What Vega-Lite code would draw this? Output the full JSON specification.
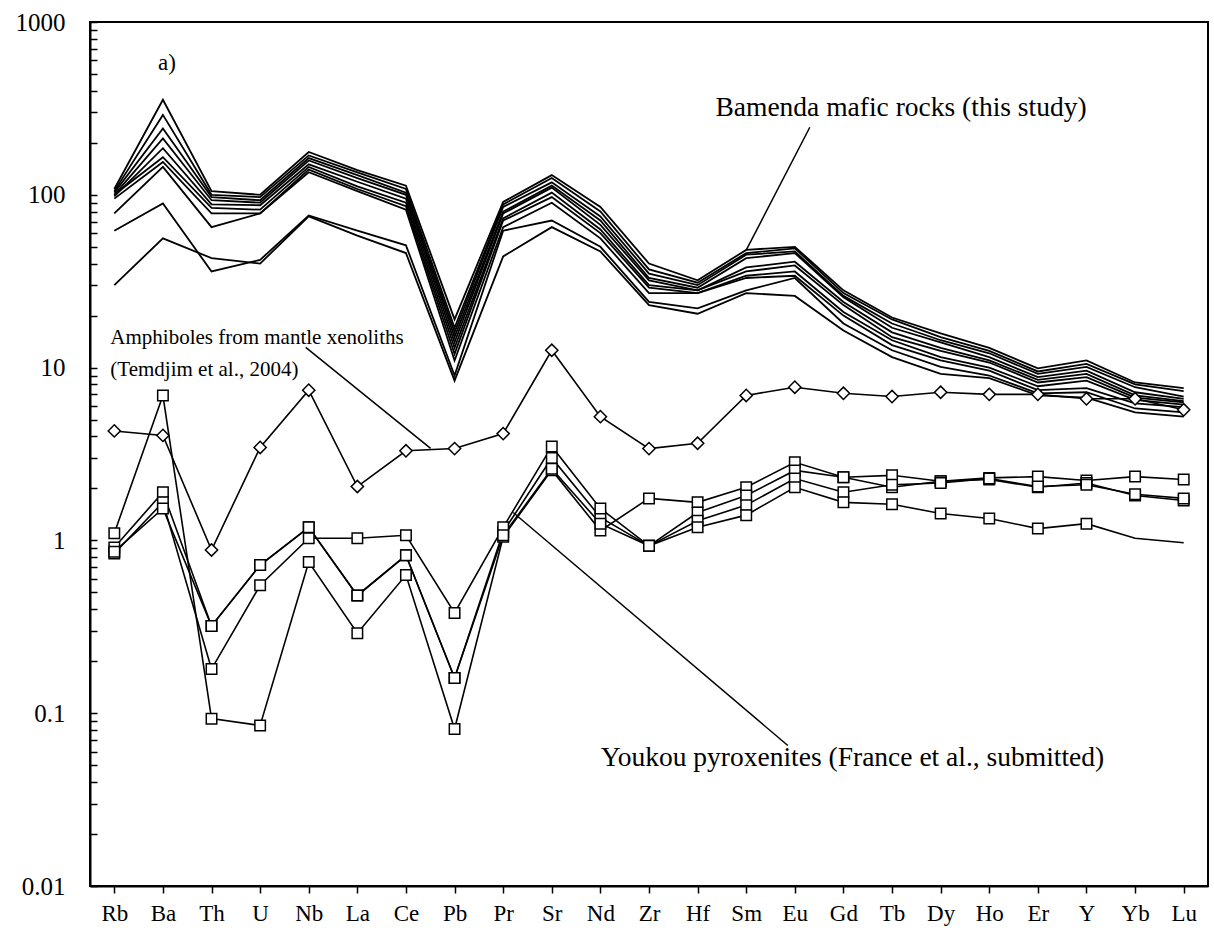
{
  "$schema": "https://vega.github.io/schema/vega-lite/v6.json",
  "autosize": "none",
  "width": 1118,
  "height": 864,
  "padding": {"left": 90, "top": 22, "right": 6, "bottom": 56},
  "background": "white",
  "config": {
    "view": {"stroke": "black", "strokeWidth": 2},
    "axis": {"labelFont": "Liberation Serif", "labelColor": "black", "tickColor": "black", "domainColor": "black", "domainWidth": 2, "tickWidth": 1.5, "grid": false, "title": null},
    "text": {"font": "Liberation Serif", "color": "black"}
  },
  "datasets": {
    "rocks": [
      {"g":"B","s":"B1","e":"Rb","v":108},{"g":"B","s":"B1","e":"Ba","v":355},{"g":"B","s":"B1","e":"Th","v":105},{"g":"B","s":"B1","e":"U","v":100},{"g":"B","s":"B1","e":"Nb","v":177},{"g":"B","s":"B1","e":"La","v":139},{"g":"B","s":"B1","e":"Ce","v":113},{"g":"B","s":"B1","e":"Pb","v":19},{"g":"B","s":"B1","e":"Pr","v":91},{"g":"B","s":"B1","e":"Sr","v":130},{"g":"B","s":"B1","e":"Nd","v":85},{"g":"B","s":"B1","e":"Zr","v":40},{"g":"B","s":"B1","e":"Hf","v":32},{"g":"B","s":"B1","e":"Sm","v":48},{"g":"B","s":"B1","e":"Eu","v":50},{"g":"B","s":"B1","e":"Gd","v":28},{"g":"B","s":"B1","e":"Tb","v":19.5},{"g":"B","s":"B1","e":"Dy","v":15.8},{"g":"B","s":"B1","e":"Ho","v":13},{"g":"B","s":"B1","e":"Er","v":9.9},{"g":"B","s":"B1","e":"Y","v":11},{"g":"B","s":"B1","e":"Yb","v":8.2},{"g":"B","s":"B1","e":"Lu","v":7.6},
      {"g":"B","s":"B2","e":"Rb","v":105},{"g":"B","s":"B2","e":"Ba","v":290},{"g":"B","s":"B2","e":"Th","v":100},{"g":"B","s":"B2","e":"U","v":97},{"g":"B","s":"B2","e":"Nb","v":169},{"g":"B","s":"B2","e":"La","v":135},{"g":"B","s":"B2","e":"Ce","v":108},{"g":"B","s":"B2","e":"Pb","v":17},{"g":"B","s":"B2","e":"Pr","v":88},{"g":"B","s":"B2","e":"Sr","v":125},{"g":"B","s":"B2","e":"Nd","v":80},{"g":"B","s":"B2","e":"Zr","v":37},{"g":"B","s":"B2","e":"Hf","v":31},{"g":"B","s":"B2","e":"Sm","v":46},{"g":"B","s":"B2","e":"Eu","v":49},{"g":"B","s":"B2","e":"Gd","v":27},{"g":"B","s":"B2","e":"Tb","v":19},{"g":"B","s":"B2","e":"Dy","v":15},{"g":"B","s":"B2","e":"Ho","v":12.5},{"g":"B","s":"B2","e":"Er","v":9.5},{"g":"B","s":"B2","e":"Y","v":10.5},{"g":"B","s":"B2","e":"Yb","v":8},{"g":"B","s":"B2","e":"Lu","v":7.3},
      {"g":"B","s":"B3","e":"Rb","v":103},{"g":"B","s":"B3","e":"Ba","v":242},{"g":"B","s":"B3","e":"Th","v":97},{"g":"B","s":"B3","e":"U","v":93},{"g":"B","s":"B3","e":"Nb","v":163},{"g":"B","s":"B3","e":"La","v":130},{"g":"B","s":"B3","e":"Ce","v":103},{"g":"B","s":"B3","e":"Pb","v":16},{"g":"B","s":"B3","e":"Pr","v":85},{"g":"B","s":"B3","e":"Sr","v":118},{"g":"B","s":"B3","e":"Nd","v":75},{"g":"B","s":"B3","e":"Zr","v":35},{"g":"B","s":"B3","e":"Hf","v":30},{"g":"B","s":"B3","e":"Sm","v":45},{"g":"B","s":"B3","e":"Eu","v":47},{"g":"B","s":"B3","e":"Gd","v":26},{"g":"B","s":"B3","e":"Tb","v":18},{"g":"B","s":"B3","e":"Dy","v":14.4},{"g":"B","s":"B3","e":"Ho","v":12.1},{"g":"B","s":"B3","e":"Er","v":9.2},{"g":"B","s":"B3","e":"Y","v":10.1},{"g":"B","s":"B3","e":"Yb","v":7.7},{"g":"B","s":"B3","e":"Lu","v":6.8},
      {"g":"B","s":"B4","e":"Rb","v":100},{"g":"B","s":"B4","e":"Ba","v":212},{"g":"B","s":"B4","e":"Th","v":93},{"g":"B","s":"B4","e":"U","v":90},{"g":"B","s":"B4","e":"Nb","v":158},{"g":"B","s":"B4","e":"La","v":125},{"g":"B","s":"B4","e":"Ce","v":100},{"g":"B","s":"B4","e":"Pb","v":15},{"g":"B","s":"B4","e":"Pr","v":80},{"g":"B","s":"B4","e":"Sr","v":113},{"g":"B","s":"B4","e":"Nd","v":71},{"g":"B","s":"B4","e":"Zr","v":33},{"g":"B","s":"B4","e":"Hf","v":29},{"g":"B","s":"B4","e":"Sm","v":43},{"g":"B","s":"B4","e":"Eu","v":46},{"g":"B","s":"B4","e":"Gd","v":25.5},{"g":"B","s":"B4","e":"Tb","v":17},{"g":"B","s":"B4","e":"Dy","v":14},{"g":"B","s":"B4","e":"Ho","v":11.5},{"g":"B","s":"B4","e":"Er","v":8.8},{"g":"B","s":"B4","e":"Y","v":9.6},{"g":"B","s":"B4","e":"Yb","v":7.2},{"g":"B","s":"B4","e":"Lu","v":6.6},
      {"g":"B","s":"B5","e":"Rb","v":98},{"g":"B","s":"B5","e":"Ba","v":186},{"g":"B","s":"B5","e":"Th","v":88},{"g":"B","s":"B5","e":"U","v":87},{"g":"B","s":"B5","e":"Nb","v":150},{"g":"B","s":"B5","e":"La","v":119},{"g":"B","s":"B5","e":"Ce","v":95},{"g":"B","s":"B5","e":"Pb","v":14},{"g":"B","s":"B5","e":"Pr","v":78},{"g":"B","s":"B5","e":"Sr","v":110},{"g":"B","s":"B5","e":"Nd","v":67},{"g":"B","s":"B5","e":"Zr","v":32},{"g":"B","s":"B5","e":"Hf","v":28},{"g":"B","s":"B5","e":"Sm","v":38},{"g":"B","s":"B5","e":"Eu","v":41},{"g":"B","s":"B5","e":"Gd","v":24},{"g":"B","s":"B5","e":"Tb","v":16},{"g":"B","s":"B5","e":"Dy","v":13},{"g":"B","s":"B5","e":"Ho","v":11},{"g":"B","s":"B5","e":"Er","v":8.5},{"g":"B","s":"B5","e":"Y","v":9.2},{"g":"B","s":"B5","e":"Yb","v":6.9},{"g":"B","s":"B5","e":"Lu","v":6.4},
      {"g":"B","s":"B6","e":"Rb","v":100},{"g":"B","s":"B6","e":"Ba","v":165},{"g":"B","s":"B6","e":"Th","v":84},{"g":"B","s":"B6","e":"U","v":82},{"g":"B","s":"B6","e":"Nb","v":145},{"g":"B","s":"B6","e":"La","v":112},{"g":"B","s":"B6","e":"Ce","v":90},{"g":"B","s":"B6","e":"Pb","v":13},{"g":"B","s":"B6","e":"Pr","v":73},{"g":"B","s":"B6","e":"Sr","v":103},{"g":"B","s":"B6","e":"Nd","v":63},{"g":"B","s":"B6","e":"Zr","v":30},{"g":"B","s":"B6","e":"Hf","v":28},{"g":"B","s":"B6","e":"Sm","v":36},{"g":"B","s":"B6","e":"Eu","v":39},{"g":"B","s":"B6","e":"Gd","v":23},{"g":"B","s":"B6","e":"Tb","v":15},{"g":"B","s":"B6","e":"Dy","v":12.5},{"g":"B","s":"B6","e":"Ho","v":10.7},{"g":"B","s":"B6","e":"Er","v":8.2},{"g":"B","s":"B6","e":"Y","v":8.8},{"g":"B","s":"B6","e":"Yb","v":6.7},{"g":"B","s":"B6","e":"Lu","v":6.3},
      {"g":"B","s":"B7","e":"Rb","v":95},{"g":"B","s":"B7","e":"Ba","v":155},{"g":"B","s":"B7","e":"Th","v":78},{"g":"B","s":"B7","e":"U","v":78},{"g":"B","s":"B7","e":"Nb","v":140},{"g":"B","s":"B7","e":"La","v":108},{"g":"B","s":"B7","e":"Ce","v":86},{"g":"B","s":"B7","e":"Pb","v":12},{"g":"B","s":"B7","e":"Pr","v":71},{"g":"B","s":"B7","e":"Sr","v":97},{"g":"B","s":"B7","e":"Nd","v":60},{"g":"B","s":"B7","e":"Zr","v":29},{"g":"B","s":"B7","e":"Hf","v":27},{"g":"B","s":"B7","e":"Sm","v":34},{"g":"B","s":"B7","e":"Eu","v":36},{"g":"B","s":"B7","e":"Gd","v":21},{"g":"B","s":"B7","e":"Tb","v":14.4},{"g":"B","s":"B7","e":"Dy","v":11.5},{"g":"B","s":"B7","e":"Ho","v":10},{"g":"B","s":"B7","e":"Er","v":7.8},{"g":"B","s":"B7","e":"Y","v":8.4},{"g":"B","s":"B7","e":"Yb","v":6.5},{"g":"B","s":"B7","e":"Lu","v":6.1},
      {"g":"B","s":"B8","e":"Rb","v":78},{"g":"B","s":"B8","e":"Ba","v":145},{"g":"B","s":"B8","e":"Th","v":65},{"g":"B","s":"B8","e":"U","v":78},{"g":"B","s":"B8","e":"Nb","v":135},{"g":"B","s":"B8","e":"La","v":105},{"g":"B","s":"B8","e":"Ce","v":82},{"g":"B","s":"B8","e":"Pb","v":11},{"g":"B","s":"B8","e":"Pr","v":65},{"g":"B","s":"B8","e":"Sr","v":90},{"g":"B","s":"B8","e":"Nd","v":56},{"g":"B","s":"B8","e":"Zr","v":27},{"g":"B","s":"B8","e":"Hf","v":27},{"g":"B","s":"B8","e":"Sm","v":33},{"g":"B","s":"B8","e":"Eu","v":34},{"g":"B","s":"B8","e":"Gd","v":20},{"g":"B","s":"B8","e":"Tb","v":13.5},{"g":"B","s":"B8","e":"Dy","v":11},{"g":"B","s":"B8","e":"Ho","v":9.6},{"g":"B","s":"B8","e":"Er","v":7.4},{"g":"B","s":"B8","e":"Y","v":7.6},{"g":"B","s":"B8","e":"Yb","v":6.2},{"g":"B","s":"B8","e":"Lu","v":5.9},
      {"g":"B","s":"B9","e":"Rb","v":62},{"g":"B","s":"B9","e":"Ba","v":89},{"g":"B","s":"B9","e":"Th","v":36},{"g":"B","s":"B9","e":"U","v":42},{"g":"B","s":"B9","e":"Nb","v":76},{"g":"B","s":"B9","e":"La","v":62},{"g":"B","s":"B9","e":"Ce","v":51},{"g":"B","s":"B9","e":"Pb","v":9},{"g":"B","s":"B9","e":"Pr","v":62},{"g":"B","s":"B9","e":"Sr","v":71},{"g":"B","s":"B9","e":"Nd","v":50},{"g":"B","s":"B9","e":"Zr","v":24},{"g":"B","s":"B9","e":"Hf","v":22},{"g":"B","s":"B9","e":"Sm","v":28},{"g":"B","s":"B9","e":"Eu","v":33},{"g":"B","s":"B9","e":"Gd","v":18},{"g":"B","s":"B9","e":"Tb","v":12.6},{"g":"B","s":"B9","e":"Dy","v":10.1},{"g":"B","s":"B9","e":"Ho","v":9},{"g":"B","s":"B9","e":"Er","v":7.1},{"g":"B","s":"B9","e":"Y","v":7.2},{"g":"B","s":"B9","e":"Yb","v":5.8},{"g":"B","s":"B9","e":"Lu","v":5.5},
      {"g":"B","s":"B10","e":"Rb","v":30},{"g":"B","s":"B10","e":"Ba","v":56},{"g":"B","s":"B10","e":"Th","v":43},{"g":"B","s":"B10","e":"U","v":40},{"g":"B","s":"B10","e":"Nb","v":75},{"g":"B","s":"B10","e":"La","v":58},{"g":"B","s":"B10","e":"Ce","v":46},{"g":"B","s":"B10","e":"Pb","v":8.4},{"g":"B","s":"B10","e":"Pr","v":44},{"g":"B","s":"B10","e":"Sr","v":65},{"g":"B","s":"B10","e":"Nd","v":47},{"g":"B","s":"B10","e":"Zr","v":23},{"g":"B","s":"B10","e":"Hf","v":20.5},{"g":"B","s":"B10","e":"Sm","v":27},{"g":"B","s":"B10","e":"Eu","v":26},{"g":"B","s":"B10","e":"Gd","v":16.4},{"g":"B","s":"B10","e":"Tb","v":11.5},{"g":"B","s":"B10","e":"Dy","v":9.2},{"g":"B","s":"B10","e":"Ho","v":8.7},{"g":"B","s":"B10","e":"Er","v":6.9},{"g":"B","s":"B10","e":"Y","v":6.7},{"g":"B","s":"B10","e":"Yb","v":5.5},{"g":"B","s":"B10","e":"Lu","v":5.2},
      {"g":"A","s":"A1","e":"Rb","v":4.3},{"g":"A","s":"A1","e":"Ba","v":4.05},{"g":"A","s":"A1","e":"Th","v":0.88},{"g":"A","s":"A1","e":"U","v":3.45},{"g":"A","s":"A1","e":"Nb","v":7.4},{"g":"A","s":"A1","e":"La","v":2.05},{"g":"A","s":"A1","e":"Ce","v":3.3},{"g":"A","s":"A1","e":"Pb","v":3.4},{"g":"A","s":"A1","e":"Pr","v":4.15},{"g":"A","s":"A1","e":"Sr","v":12.6},{"g":"A","s":"A1","e":"Nd","v":5.2},{"g":"A","s":"A1","e":"Zr","v":3.4},{"g":"A","s":"A1","e":"Hf","v":3.65},{"g":"A","s":"A1","e":"Sm","v":6.9},{"g":"A","s":"A1","e":"Eu","v":7.7},{"g":"A","s":"A1","e":"Gd","v":7.1},{"g":"A","s":"A1","e":"Tb","v":6.8},{"g":"A","s":"A1","e":"Dy","v":7.2},{"g":"A","s":"A1","e":"Ho","v":7.0},{"g":"A","s":"A1","e":"Er","v":7.0},{"g":"A","s":"A1","e":"Y","v":6.6},{"g":"A","s":"A1","e":"Yb","v":6.6},{"g":"A","s":"A1","e":"Lu","v":5.7},
      {"g":"Y","s":"Y1","e":"Rb","v":1.1},{"g":"Y","s":"Y1","e":"Ba","v":6.9},{"g":"Y","s":"Y1","e":"Th","v":0.093},{"g":"Y","s":"Y1","e":"U","v":0.085},{"g":"Y","s":"Y1","e":"Nb","v":0.75},{"g":"Y","s":"Y1","e":"La","v":0.29},{"g":"Y","s":"Y1","e":"Ce","v":0.63},{"g":"Y","s":"Y1","e":"Pb","v":0.081},{"g":"Y","s":"Y1","e":"Pr","v":1.05},{"g":"Y","s":"Y1","e":"Sr","v":2.55},{"g":"Y","s":"Y1","e":"Nd","v":1.14},{"g":"Y","s":"Y1","e":"Zr","v":1.75},{"g":"Y","s":"Y1","e":"Hf","v":1.66},{"g":"Y","s":"Y1","e":"Sm","v":2.03},{"g":"Y","s":"Y1","e":"Eu","v":2.83},{"g":"Y","s":"Y1","e":"Gd","v":2.32},{"g":"Y","s":"Y1","e":"Tb","v":2.38},{"g":"Y","s":"Y1","e":"Dy","v":2.2},{"g":"Y","s":"Y1","e":"Ho","v":2.3},{"g":"Y","s":"Y1","e":"Er","v":2.34},{"g":"Y","s":"Y1","e":"Y","v":2.22},{"g":"Y","s":"Y1","e":"Yb","v":2.34},{"g":"Y","s":"Y1","e":"Lu","v":2.25},
      {"g":"Y","s":"Y2","e":"Rb","v":0.91},{"g":"Y","s":"Y2","e":"Ba","v":1.9},{"g":"Y","s":"Y2","e":"Th","v":0.32},{"g":"Y","s":"Y2","e":"U","v":0.72},{"g":"Y","s":"Y2","e":"Nb","v":1.19},{"g":"Y","s":"Y2","e":"La","v":0.48},{"g":"Y","s":"Y2","e":"Ce","v":0.82},{"g":"Y","s":"Y2","e":"Pb","v":0.16},{"g":"Y","s":"Y2","e":"Pr","v":1.12},{"g":"Y","s":"Y2","e":"Sr","v":3.0},{"g":"Y","s":"Y2","e":"Nd","v":1.36},{"g":"Y","s":"Y2","e":"Zr","v":0.93},{"g":"Y","s":"Y2","e":"Hf","v":1.45},{"g":"Y","s":"Y2","e":"Sm","v":1.82},{"g":"Y","s":"Y2","e":"Eu","v":2.54},{"g":"Y","s":"Y2","e":"Gd","v":2.32},{"g":"Y","s":"Y2","e":"Tb","v":2.03},{"g":"Y","s":"Y2","e":"Dy","v":2.2},{"g":"Y","s":"Y2","e":"Ho","v":2.25},{"g":"Y","s":"Y2","e":"Er","v":2.03},{"g":"Y","s":"Y2","e":"Y","v":2.15},{"g":"Y","s":"Y2","e":"Yb","v":1.82},{"g":"Y","s":"Y2","e":"Lu","v":1.7},
      {"g":"Y","s":"Y3","e":"Rb","v":0.84},{"g":"Y","s":"Y3","e":"Ba","v":1.66},{"g":"Y","s":"Y3","e":"Th","v":0.18},{"g":"Y","s":"Y3","e":"U","v":0.55},{"g":"Y","s":"Y3","e":"Nb","v":1.03},{"g":"Y","s":"Y3","e":"La","v":1.03},{"g":"Y","s":"Y3","e":"Ce","v":1.07},{"g":"Y","s":"Y3","e":"Pb","v":0.38},{"g":"Y","s":"Y3","e":"Pr","v":1.19},{"g":"Y","s":"Y3","e":"Sr","v":3.5},{"g":"Y","s":"Y3","e":"Nd","v":1.53},{"g":"Y","s":"Y3","e":"Zr","v":0.93},{"g":"Y","s":"Y3","e":"Hf","v":1.3},{"g":"Y","s":"Y3","e":"Sm","v":1.6},{"g":"Y","s":"Y3","e":"Eu","v":2.28},{"g":"Y","s":"Y3","e":"Gd","v":1.9},{"g":"Y","s":"Y3","e":"Tb","v":2.1},{"g":"Y","s":"Y3","e":"Dy","v":2.15},{"g":"Y","s":"Y3","e":"Ho","v":2.28},{"g":"Y","s":"Y3","e":"Er","v":2.05},{"g":"Y","s":"Y3","e":"Y","v":2.1},{"g":"Y","s":"Y3","e":"Yb","v":1.85},{"g":"Y","s":"Y3","e":"Lu","v":1.75},
      {"g":"Y","s":"Y4","e":"Rb","v":0.86},{"g":"Y","s":"Y4","e":"Ba","v":1.53},{"g":"Y","s":"Y4","e":"Th","v":0.32},{"g":"Y","s":"Y4","e":"U","v":0.72},{"g":"Y","s":"Y4","e":"Nb","v":1.19},{"g":"Y","s":"Y4","e":"La","v":0.48},{"g":"Y","s":"Y4","e":"Ce","v":0.82},{"g":"Y","s":"Y4","e":"Pb","v":0.16},{"g":"Y","s":"Y4","e":"Pr","v":1.07},{"g":"Y","s":"Y4","e":"Sr","v":2.6},{"g":"Y","s":"Y4","e":"Nd","v":1.25},{"g":"Y","s":"Y4","e":"Zr","v":0.93},{"g":"Y","s":"Y4","e":"Hf","v":1.19},{"g":"Y","s":"Y4","e":"Sm","v":1.4},{"g":"Y","s":"Y4","e":"Eu","v":2.03},{"g":"Y","s":"Y4","e":"Gd","v":1.66},{"g":"Y","s":"Y4","e":"Tb","v":1.62},{"g":"Y","s":"Y4","e":"Dy","v":1.43},{"g":"Y","s":"Y4","e":"Ho","v":1.34},{"g":"Y","s":"Y4","e":"Er","v":1.17},{"g":"Y","s":"Y4","e":"Y","v":1.25},{"g":"Y","s":"Y4","e":"Yb","v":1.03},{"g":"Y","s":"Y4","e":"Lu","v":0.97}
    ],
    "labels": [
      {"t":"Bamenda mafic rocks (this study)","e":"Tb","v":317,"k":"big"},
      {"t":"Youkou pyroxenites (France et al., submitted)","e":"Gd","v":0.0547,"k":"big"},
      {"t":"a)","e":"Ba","v":578,"k":"a"}
    ],
    "amphlabels": [
      {"t":"Amphiboles from mantle xenoliths","e":"Rb","v":14.8},
      {"t":"(Temdjim et al., 2004)","e":"Rb","v":9.7}
    ]
  },
  "encoding": {
    "x": {
      "field": "e", "type": "nominal",
      "sort": ["Rb","Ba","Th","U","Nb","La","Ce","Pb","Pr","Sr","Nd","Zr","Hf","Sm","Eu","Gd","Tb","Dy","Ho","Er","Y","Yb","Lu"],
      "scale": {"type": "point", "padding": 0.5, "domain": ["Rb","Ba","Th","U","Nb","La","Ce","Pb","Pr","Sr","Nd","Zr","Hf","Sm","Eu","Gd","Tb","Dy","Ho","Er","Y","Yb","Lu"]},
      "axis": {"labelAngle": 0, "labelFontSize": 23, "tickSize": 7, "labelPadding": 9, "domain": true}
    },
    "y": {
      "field": "v", "type": "quantitative",
      "scale": {"type": "log", "domain": [0.01, 1000], "nice": false},
      "axis": {
        "values": [0.01,0.02,0.03,0.04,0.05,0.06,0.07,0.08,0.09,0.1,0.2,0.3,0.4,0.5,0.6,0.7,0.8,0.9,1,2,3,4,5,6,7,8,9,10,20,30,40,50,60,70,80,90,100,200,300,400,500,600,700,800,900,1000],
        "format": "~g",
        "labelExpr": "indexof([0.01,0.1,1,10,100,1000], datum.value) >= 0 ? datum.label : ''",
        "labelFontSize": 25, "tickSize": -7, "labelPadding": 32
      }
    }
  },
  "layer": [
    {
      "data": {"name": "rocks"},
      "transform": [{"filter": "datum.g == 'B'"}],
      "mark": {"type": "line", "color": "black", "strokeWidth": 1.8},
      "encoding": {"detail": {"field": "s"}, "order": {"value": null}}
    },
    {
      "data": {"name": "rocks"},
      "transform": [{"filter": "datum.g == 'A'"}],
      "mark": {"type": "line", "color": "black", "strokeWidth": 1.6},
      "encoding": {"detail": {"field": "s"}, "order": {"value": null}}
    },
    {
      "data": {"name": "rocks"},
      "transform": [{"filter": "datum.g == 'Y'"}],
      "mark": {"type": "line", "color": "black", "strokeWidth": 1.6},
      "encoding": {"detail": {"field": "s"}, "order": {"value": null}}
    },
    {
      "data": {"name": "rocks"},
      "transform": [{"filter": "datum.g == 'A'"}],
      "mark": {"type": "point", "shape": "diamond", "size": 150, "filled": true, "fill": "white", "stroke": "black", "strokeWidth": 1.5, "opacity": 1}
    },
    {
      "data": {"name": "rocks"},
      "transform": [{"filter": "datum.g == 'Y' && !(datum.s == 'Y4' && (datum.e == 'Yb' || datum.e == 'Lu'))"}],
      "mark": {"type": "point", "shape": "square", "size": 110, "filled": true, "fill": "white", "stroke": "black", "strokeWidth": 1.5, "opacity": 1}
    },
    {
      "data": {"values": [{"e1": "Eu", "v1": 246, "e2": "Sm", "v2": 47.8}]},
      "mark": {"type": "rule", "color": "black", "strokeWidth": 1.5, "xOffset": 15},
      "encoding": {"x": {"field": "e1", "type": "nominal"}, "x2": {"field": "e2"}, "y": {"field": "v1", "type": "quantitative"}, "y2": {"field": "v2"}}
    },
    {
      "data": {"values": [{"e1": "Nb", "v1": 13.1, "e2": "Pb", "v2": 3.41}]},
      "mark": {"type": "rule", "color": "black", "strokeWidth": 1.5, "xOffset": -3, "x2Offset": -24},
      "encoding": {"x": {"field": "e1", "type": "nominal"}, "x2": {"field": "e2"}, "y": {"field": "v1", "type": "quantitative"}, "y2": {"field": "v2"}}
    },
    {
      "data": {"values": [{"e1": "Pr", "v1": 1.45, "e2": "Eu", "v2": 0.065}]},
      "mark": {"type": "rule", "color": "black", "strokeWidth": 1.5, "xOffset": 10, "x2Offset": -7},
      "encoding": {"x": {"field": "e1", "type": "nominal"}, "x2": {"field": "e2"}, "y": {"field": "v1", "type": "quantitative"}, "y2": {"field": "v2"}}
    },
    {
      "data": {"name": "labels"},
      "transform": [{"filter": "datum.k == 'big'"}],
      "mark": {"type": "text", "fontSize": 27.5, "align": "center", "baseline": "middle", "dx": 9},
      "encoding": {"text": {"field": "t"}}
    },
    {
      "data": {"name": "labels"},
      "transform": [{"filter": "datum.k == 'a'"}],
      "mark": {"type": "text", "fontSize": 23, "align": "center", "baseline": "middle", "dx": 4},
      "encoding": {"text": {"field": "t"}}
    },
    {
      "data": {"name": "amphlabels"},
      "mark": {"type": "text", "fontSize": 21, "align": "left", "baseline": "middle", "dx": -4},
      "encoding": {"text": {"field": "t"}}
    }
  ]
}
